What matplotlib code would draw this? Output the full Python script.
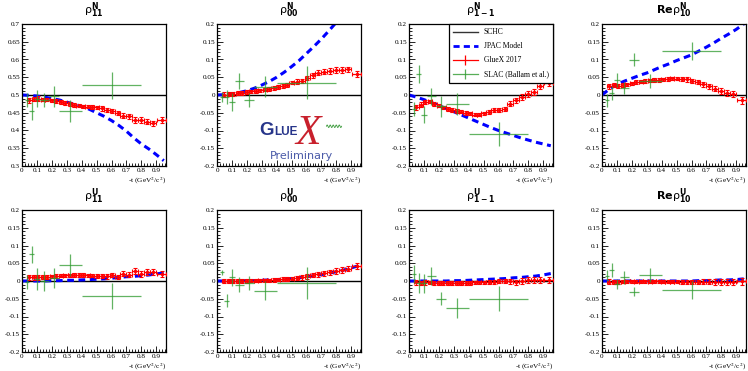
import numpy as np
import matplotlib
matplotlib.use("Agg")
import matplotlib.pyplot as plt
from matplotlib.ticker import MultipleLocator, FuncFormatter
from matplotlib.lines import Line2D

plt.rcParams['mathtext.fontset'] = 'dejavusans'

# ---------------- data ----------------
# GlueX 2017 bins in -t (GeV^2/c^2)
gx_t = [0.05, 0.08, 0.11, 0.14, 0.17, 0.20, 0.23, 0.26, 0.29, 0.32, 0.35, 0.38, 0.41, 0.44,
        0.47, 0.50, 0.535, 0.57, 0.605, 0.64, 0.68, 0.72, 0.76, 0.80, 0.84, 0.88, 0.935]
gx_terr = [0.015] * 16 + [0.0175] * 4 + [0.02] * 6 + [0.03]
gx_err = [0.007, 0.006, 0.006, 0.005, 0.005, 0.005, 0.005, 0.005, 0.005, 0.005, 0.005, 0.005,
          0.005, 0.005, 0.005, 0.005, 0.006, 0.006, 0.006, 0.006, 0.007, 0.007, 0.008, 0.008,
          0.008, 0.008, 0.009]

gx_rho11N = [0.485, 0.488, 0.49, 0.487, 0.487, 0.485, 0.483, 0.48, 0.478, 0.475, 0.472, 0.47,
             0.468, 0.467, 0.466, 0.465, 0.462, 0.458, 0.455, 0.45, 0.442, 0.44, 0.43, 0.43,
             0.425, 0.42, 0.43]
gx_rho00N = [0.001, 0.002, 0.003, 0.005, 0.006, 0.008, 0.01, 0.012, 0.013, 0.015, 0.017, 0.02,
             0.022, 0.025, 0.028, 0.035, 0.038, 0.04, 0.048, 0.055, 0.063, 0.065, 0.068, 0.07,
             0.07, 0.072, 0.06]
gx_rho1m1N = [-0.035, -0.027, -0.02, -0.018, -0.025, -0.03, -0.035, -0.04, -0.043, -0.045,
              -0.047, -0.05, -0.052, -0.055, -0.055, -0.052, -0.048, -0.043, -0.042, -0.04,
              -0.025, -0.015, -0.006, 0.002, 0.008, 0.025, 0.035]
gx_re10N = [0.025, 0.028, 0.026, 0.028, 0.03, 0.033, 0.036, 0.038, 0.04, 0.041, 0.042, 0.042,
            0.044, 0.045, 0.047, 0.046, 0.045, 0.044, 0.04, 0.036, 0.03, 0.025, 0.018, 0.012,
            0.006, 0.002, -0.015]
gx_rho11U = [0.01, 0.01, 0.01, 0.011, 0.012, 0.013, 0.014, 0.015, 0.016, 0.016, 0.017, 0.017,
             0.017, 0.016, 0.015, 0.014, 0.015, 0.013, 0.016, 0.012, 0.02, 0.018, 0.028, 0.02,
             0.025, 0.025, 0.02]
gx_rho00U = [0.0, 0.0, 0.0, 0.0, 0.0, 0.0, 0.001, 0.001, 0.002, 0.002, 0.002, 0.003, 0.004,
             0.005, 0.006, 0.007, 0.008, 0.01, 0.013, 0.016, 0.019, 0.022, 0.024, 0.028, 0.031,
             0.035, 0.043]
gx_rho1m1U = [-0.003, -0.005, -0.004, -0.004, -0.006, -0.006, -0.005, -0.005, -0.006, -0.005,
              -0.005, -0.005, -0.005, -0.004, -0.004, -0.004, -0.003, -0.002, -0.001, 0.0,
              -0.001, -0.003, 0.0, 0.002, 0.003, 0.003, 0.003]
gx_re10U = [-0.002, -0.003, -0.002, -0.002, -0.001, -0.001, -0.002, -0.001, -0.001, -0.002,
            -0.001, -0.001, -0.002, -0.002, -0.002, -0.002, -0.003, -0.002, -0.003, -0.003,
            -0.002, -0.002, -0.003, -0.002, -0.002, -0.002, -0.001]

# JPAC model curves
jp_t = [0.0, 0.05, 0.1, 0.15, 0.2, 0.25, 0.3, 0.35, 0.4, 0.45, 0.5, 0.55, 0.6, 0.65, 0.7,
        0.75, 0.8, 0.85, 0.9, 0.95]
jp_rho11N = [0.5, 0.499, 0.497, 0.494, 0.49, 0.486, 0.48, 0.474, 0.468, 0.46, 0.45, 0.44,
             0.428, 0.414, 0.398, 0.379, 0.362, 0.348, 0.332, 0.315]
jp_rho00N = [0.0, 0.001, 0.003, 0.007, 0.012, 0.019, 0.028, 0.038, 0.05, 0.064, 0.08, 0.097,
             0.117, 0.137, 0.158, 0.181, 0.205, 0.232, 0.26, 0.29]
jp_rho1m1N = [0.0, -0.006, -0.013, -0.021, -0.03, -0.038, -0.047, -0.056, -0.065, -0.074,
              -0.083, -0.092, -0.1, -0.107, -0.114, -0.121, -0.127, -0.133, -0.138, -0.143]
jp_re10N = [0.0, 0.017, 0.03, 0.039, 0.047, 0.055, 0.062, 0.071, 0.08, 0.088, 0.097, 0.105,
            0.113, 0.124, 0.135, 0.147, 0.16, 0.172, 0.185, 0.2]
jp_rho11U = [0.0, 0.0, 0.0, 0.0, 0.001, 0.001, 0.002, 0.002, 0.003, 0.004, 0.005, 0.006, 0.008,
             0.01, 0.012, 0.013, 0.015, 0.017, 0.02, 0.023]
jp_rho00U = [0.0, 0.0, 0.0, 0.0, 0.001, 0.001, 0.002, 0.003, 0.004, 0.005, 0.007, 0.009, 0.012,
             0.015, 0.018, 0.022, 0.026, 0.031, 0.037, 0.043]
jp_rho1m1U = [0.0, 0.0, 0.0, 0.0, 0.0, 0.0, 0.001, 0.001, 0.002, 0.003, 0.004, 0.005, 0.006,
              0.007, 0.009, 0.01, 0.012, 0.014, 0.017, 0.021]
jp_re10U = [0.0, 0.0, 0.0, 0.0, 0.0, 0.0, 0.0, 0.0, 0.0, 0.0, 0.0, 0.0, 0.0, 0.001, 0.001,
            0.002, 0.003, 0.003, 0.004, 0.006]

# SLAC (Ballam et al.)
sl_t = [0.035, 0.065, 0.10, 0.15, 0.215, 0.325, 0.60]
sl_terr = [0.015, 0.015, 0.02, 0.03, 0.035, 0.075, 0.20]
sl_rho11N = [0.487, 0.455, 0.49, 0.487, 0.496, 0.455, 0.527]
sl_rho11N_err = [0.02, 0.025, 0.025, 0.02, 0.03, 0.03, 0.037]
sl_rho00N = [-0.006, -0.005, -0.02, 0.04, -0.013, 0.023, 0.035]
sl_rho00N_err = [0.015, 0.02, 0.025, 0.022, 0.02, 0.03, 0.047]
sl_rho1m1N = [-0.039, 0.06, -0.055, -0.004, -0.032, -0.025, -0.11]
sl_rho1m1N_err = [0.02, 0.025, 0.025, 0.025, 0.03, 0.03, 0.035]
sl_re10N = [-0.015, 0.005, 0.043, 0.02, 0.1, 0.04, 0.125]
sl_re10N_err = [0.018, 0.02, 0.02, 0.018, 0.018, 0.02, 0.025]
sl_rho11U = [-0.002, 0.075, 0.006, 0.0, 0.008, 0.045, -0.043]
sl_rho11U_err = [0.02, 0.025, 0.03, 0.028, 0.028, 0.032, 0.037]
sl_rho00U = [0.025, -0.055, 0.01, -0.01, -0.006, -0.027, -0.005]
sl_rho00U_err = [0.007, 0.018, 0.025, 0.02, 0.02, 0.027, 0.045]
sl_rho1m1U = [0.019, -0.006, -0.006, 0.014, -0.05, -0.075, -0.05]
sl_rho1m1U_err = [0.025, 0.028, 0.027, 0.025, 0.018, 0.028, 0.035]
sl_re10U = [0.015, 0.032, -0.008, 0.01, -0.03, 0.018, -0.025]
sl_re10U_err = [0.015, 0.02, 0.015, 0.018, 0.012, 0.02, 0.025]

titles = ['ρ$^{\\mathbf{N}}_{\\mathbf{11}}$', 'ρ$^{\\mathbf{N}}_{\\mathbf{00}}$',
          'ρ$^{\\mathbf{N}}_{\\mathbf{1-1}}$', '$\\mathbf{Re}$ρ$^{\\mathbf{N}}_{\\mathbf{10}}$',
          'ρ$^{\\mathbf{U}}_{\\mathbf{11}}$', 'ρ$^{\\mathbf{U}}_{\\mathbf{00}}$',
          'ρ$^{\\mathbf{U}}_{\\mathbf{1-1}}$', '$\\mathbf{Re}$ρ$^{\\mathbf{U}}_{\\mathbf{10}}$']

panels = [
    (gx_rho11N, jp_rho11N, sl_rho11N, sl_rho11N_err, 0.5),
    (gx_rho00N, jp_rho00N, sl_rho00N, sl_rho00N_err, 0.0),
    (gx_rho1m1N, jp_rho1m1N, sl_rho1m1N, sl_rho1m1N_err, 0.0),
    (gx_re10N, jp_re10N, sl_re10N, sl_re10N_err, 0.0),
    (gx_rho11U, jp_rho11U, sl_rho11U, sl_rho11U_err, 0.0),
    (gx_rho00U, jp_rho00U, sl_rho00U, sl_rho00U_err, 0.0),
    (gx_rho1m1U, jp_rho1m1U, sl_rho1m1U, sl_rho1m1U_err, 0.0),
    (gx_re10U, jp_re10U, sl_re10U, sl_re10U_err, 0.0),
]

# ---------------- layout ----------------
W, H = 748, 371
fig = plt.figure(figsize=(W / 100, H / 100), dpi=100)
fig.patch.set_facecolor('white')

col_left = [22, 217, 409, 602]
ax_w = 144
row_top = [24, 210]
ax_h = 142

RED = '#ff0000'
BLUE = '#0000ff'
GREEN = '#2e9a2e'
SERIF = 'Liberation Serif'
DASH = (2.2, 1.5)


def tick_fmt(v, pos):
    s = f'{v:.2f}'.rstrip('0').rstrip('.')
    if s in ('-0', ''):
        s = '0'
    return s


axes = []
for i, (gvals, jvals, svals, serr, schc) in enumerate(panels):
    r, c = divmod(i, 4)
    left = col_left[c] / W
    bottom = 1 - (row_top[r] + ax_h) / H
    ax = fig.add_axes([left, bottom, ax_w / W, ax_h / H])
    axes.append(ax)

    ax.set_xlim(0, 0.965)
    if i == 0:
        ax.set_ylim(0.3, 0.7)
    else:
        ax.set_ylim(-0.2, 0.2)

    ax.axhline(schc, color='black', lw=1.0, zorder=1)
    ax.plot(jp_t, jvals, color=BLUE, lw=2.2, dashes=DASH, zorder=2)
    ax.errorbar(gx_t, gvals, xerr=gx_terr, yerr=gx_err, fmt='s', ms=1.2, color=RED,
                elinewidth=0.9, capsize=1.2, capthick=0.8, zorder=3)
    ax.errorbar(sl_t, svals, xerr=sl_terr, yerr=serr, fmt='none', ecolor=GREEN,
                elinewidth=0.9, alpha=0.75, zorder=4)

    ax.xaxis.set_major_locator(MultipleLocator(0.1))
    ax.xaxis.set_minor_locator(MultipleLocator(0.02))
    ax.yaxis.set_major_locator(MultipleLocator(0.05))
    ax.yaxis.set_minor_locator(MultipleLocator(0.01))
    ax.xaxis.set_major_formatter(FuncFormatter(tick_fmt))
    ax.yaxis.set_major_formatter(FuncFormatter(tick_fmt))
    ax.tick_params(which='both', direction='in', top=False, right=False,
                   labelsize=5.2, pad=1.5, width=0.6)
    ax.tick_params(which='major', length=4)
    ax.tick_params(which='minor', length=2)
    for lab in ax.get_xticklabels() + ax.get_yticklabels():
        lab.set_fontfamily(SERIF)
    for sp in ax.spines.values():
        sp.set_linewidth(0.9)

    ax.text(1.0, -0.066, r'-t (GeV$^{2}$/c$^{2}$)', transform=ax.transAxes, ha='right',
            va='top', fontsize=5.3, family=SERIF, math_fontfamily='stix')
    ax.text(0.5, 1.025, titles[i], transform=ax.transAxes, ha='center', va='bottom',
            fontsize=8)

# legend in the rho^N_{1-1} panel
ax3 = axes[2]
handles = [
    Line2D([], [], color='#333333', lw=1.0),
    Line2D([], [], color=BLUE, lw=2.0, dashes=DASH),
    Line2D([], [], color=RED, lw=0.9, marker='|', ms=7, mew=0.9),
    Line2D([], [], color=GREEN, lw=0.9, marker='|', ms=7, mew=0.9, alpha=0.8),
]
labels = ['SCHC', 'JPAC Model', 'GlueX 2017', 'SLAC (Ballam et al.)']
leg = ax3.legend(handles, labels, loc='upper right', bbox_to_anchor=(1.0, 1.0),
                 borderaxespad=0.0, fancybox=False, edgecolor='black', framealpha=1.0,
                 prop={'family': SERIF, 'size': 5.5}, handlelength=3.2,
                 labelspacing=0.8, borderpad=0.55, handletextpad=0.8)
leg.get_frame().set_linewidth(0.9)
leg.set_zorder(10)

# GlueX logo in the rho^N_00 panel
ax2 = axes[1]
ax2.text(0.295, 0.22, 'G', transform=ax2.transAxes, fontsize=13.5, fontweight='bold',
         family='Liberation Sans', color='#27358a', ha='left', va='baseline', zorder=6)
ax2.text(0.395, 0.22, 'LUE', transform=ax2.transAxes, fontsize=8.5, fontweight='bold',
         family='Liberation Sans', color='#27358a', ha='left', va='baseline', zorder=6)
ax2.text(0.545, 0.155, 'X', transform=ax2.transAxes, fontsize=30, fontstyle='italic',
         family=SERIF, color='#c8202c', ha='left', va='baseline', zorder=6)
wave_x = np.linspace(0.76, 0.865, 60)
ax2.plot(wave_x, 0.28 + 0.009 * np.sin((wave_x - 0.76) * 2 * np.pi / 0.021),
         transform=ax2.transAxes, color='#3a9a3a', lw=0.6, zorder=6)
ax2.text(0.585, 0.07, 'Preliminary', transform=ax2.transAxes, fontsize=8,
         color='#4a5aa8', ha='center', va='center', zorder=6)

fig.savefig('out.png', dpi=100)
